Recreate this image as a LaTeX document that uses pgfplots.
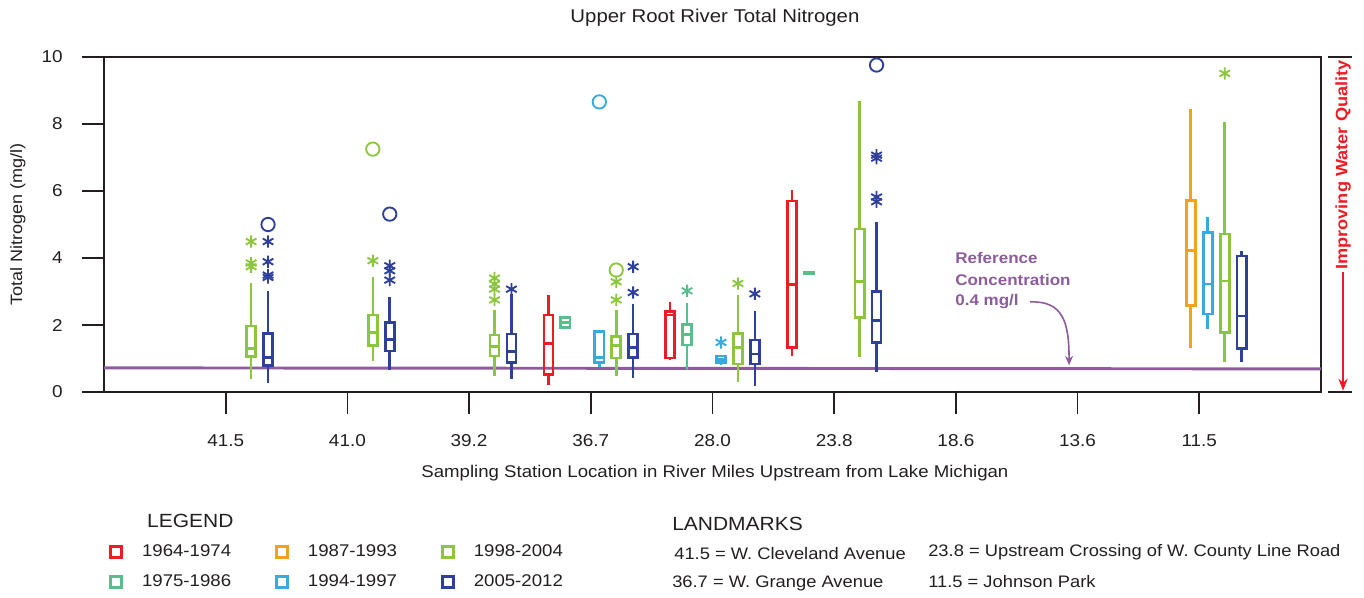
\documentclass[border=0pt]{standalone}
\usepackage{pgfplots}
\pgfplotsset{compat=1.18}
\usepgfplotslibrary{statistics}
\usetikzlibrary{arrows.meta}
\usepackage{fontspec}
\setmainfont{Liberation Sans}[FakeStretch=1.1]
\definecolor{cred}{RGB}{237,28,36}
\definecolor{cteal}{RGB}{90,190,140}
\definecolor{corange}{RGB}{247,160,30}
\definecolor{clblue}{RGB}{57,170,225}
\definecolor{cgreen}{RGB}{140,198,63}
\definecolor{cnavy}{RGB}{46,64,154}
\definecolor{cpurple}{RGB}{140,92,155}
\definecolor{axisblack}{RGB}{35,31,32}
\newcommand{\fs}[1]{\fontsize{#1}{#1}\selectfont}
% #1 colour, #2 position, #3 lower whisker, #4 lower quartile, #5 median, #6 upper quartile, #7 upper whisker
\newcommand{\bx}[7]{\addplot[#1, line width=2pt, forget plot, boxplot prepared={draw position=#2, lower whisker=#3, lower quartile=#4, median=#5, upper quartile=#6, upper whisker=#7, box extend=0.075, whisker extend=0}] coordinates {};}
\begin{document}
\begin{tikzpicture}
\useasboundingbox (-78pt,-153.75pt) rectangle (945pt,294pt);
\begin{axis}[
  at={(0,0)}, anchor=south west,
  scale only axis, width=912.75pt, height=251.25pt,
  xmin=0, xmax=10, ymin=0, ymax=10,
  boxplot/draw direction=y,
  boxplot/every box/.style={line width=2pt},
  boxplot/every whisker/.style={line width=2pt},
  boxplot/every median/.style={line width=2pt},
  xtick={1,...,9},
  xticklabels={41.5,41.0,39.2,36.7,28.0,23.8,18.6,13.6,11.5},
  ytick={0,2,...,10},
  tick pos=left,
  tick align=outside, major tick length=16.5pt,
  tick style={line width=1.3pt, color=axisblack},
  axis line style={line width=1.3pt, color=axisblack},
  /pgf/number format/assume math mode=true,
  ticklabel style={font=\fs{12.9pt}, text=axisblack},
  xticklabel style={anchor=base, inner sep=0pt, yshift=-24.5pt},
  yticklabel style={anchor=east, inner sep=0pt, xshift=-14.25pt},
  clip=false,
  xlabel={Sampling Station Location in River Miles Upstream from Lake Michigan},
  ylabel={Total Nitrogen (mg/l)},
  every axis x label/.style={at={(axis description cs:0.502,-0.2567)}, anchor=base, font=\fs{12.7pt}, text=axisblack},
  every axis y label/.style={at={(axis description cs:-0.0707,0.5)}, rotate=90, anchor=center, font=\fs{12.3pt}, text=axisblack},
  legend columns=3,
  legend cell align=left,
  legend image code/.code={\draw[#1, line width=2.2pt] (0pt,-4.2pt) rectangle (8.4pt,4.2pt);},
  legend style={at={(axis description cs:0.0041,-0.4552)}, anchor=north west, draw=none, fill=none, inner sep=0pt, font=\fs{12.7pt}, text=axisblack, row sep=12pt, nodes={inner sep=0pt},
    /tikz/every odd column/.append style={column sep=14pt},
    /tikz/every even column/.append style={column sep=33pt}},
]
\addlegendimage{draw=cred}\addlegendentry{1964-1974}
\addlegendimage{draw=corange}\addlegendentry{1987-1993}
\addlegendimage{draw=cgreen}\addlegendentry{1998-2004}
\addlegendimage{draw=cteal}\addlegendentry{1975-1986}
\addlegendimage{draw=clblue}\addlegendentry{1994-1997}
\addlegendimage{draw=cnavy}\addlegendentry{2005-2012}

% reference concentration line
\addplot[cpurple, line width=2.2pt, forget plot] coordinates {(0,0.72) (10,0.69)};

% 41.5
\bx{cgreen}{1.209}{0.39}{1.05}{1.30}{1.97}{3.26}
\bx{cnavy}{1.348}{0.26}{0.79}{1.03}{1.75}{3.02}
% 41.0
\bx{cgreen}{2.209}{0.93}{1.38}{1.77}{2.30}{3.44}
\bx{cnavy}{2.348}{0.66}{1.22}{1.57}{2.07}{2.85}
% 39.2
\bx{cgreen}{3.209}{0.48}{1.07}{1.35}{1.70}{2.45}
\bx{cnavy}{3.348}{0.38}{0.88}{1.20}{1.73}{2.92}
% 36.7
\bx{cred}{3.652}{0.21}{0.53}{1.45}{2.30}{2.90}
\bx{cteal}{3.791}{1.93}{1.93}{2.07}{2.22}{2.22}
\bx{clblue}{4.070}{0.76}{0.88}{1.03}{1.80}{1.80}
\bx{cgreen}{4.209}{0.48}{1.02}{1.38}{1.65}{2.45}
\bx{cnavy}{4.348}{0.41}{1.03}{1.32}{1.73}{2.63}
% 28.0
\bx{cred}{4.652}{0.97}{1.02}{2.30}{2.40}{2.70}
\bx{cteal}{4.791}{0.66}{1.40}{1.72}{2.02}{2.65}
\bx{clblue}{5.070}{0.81}{0.88}{0.98}{1.07}{1.07}
\bx{cgreen}{5.209}{0.31}{0.84}{1.33}{1.75}{2.90}
\bx{cnavy}{5.348}{0.18}{0.84}{1.13}{1.55}{2.43}
% 23.8
\bx{cred}{5.652}{1.07}{1.33}{3.21}{5.70}{6.03}
\bx{cteal}{5.791}{3.54}{3.54}{3.56}{3.58}{3.58}
\bx{cgreen}{6.209}{1.05}{2.22}{3.29}{4.87}{8.69}
\bx{cnavy}{6.348}{0.59}{1.47}{2.13}{3.01}{5.08}
% 11.5
\bx{corange}{8.930}{1.30}{2.58}{4.22}{5.71}{8.44}
\bx{clblue}{9.070}{1.87}{2.33}{3.22}{4.76}{5.23}
\bx{cgreen}{9.209}{0.91}{1.78}{3.31}{4.72}{8.07}
\bx{cnavy}{9.348}{0.89}{1.30}{2.27}{4.06}{4.21}

% outliers (asterisks)
\addplot[only marks, mark=asterisk, mark size=4.6pt, line width=1.4pt, cgreen, forget plot] coordinates {
 (1.209,4.49) (1.209,3.85) (1.209,3.74)
 (2.209,3.92)
 (3.209,3.40) (3.209,3.22) (3.209,3.07) (3.209,2.75)
 (4.209,3.29) (4.209,2.75)
 (5.209,3.24)
 (9.209,9.51)};
\addplot[only marks, mark=asterisk, mark size=4.6pt, line width=1.4pt, cnavy, forget plot] coordinates {
 (1.348,4.49) (1.348,3.89) (1.348,3.49) (1.348,3.42)
 (2.348,3.77) (2.348,3.62) (2.348,3.34)
 (3.348,3.07)
 (4.348,3.74) (4.348,2.97)
 (5.348,2.93)
 (6.348,7.07) (6.348,6.98) (6.348,5.82) (6.348,5.68)};
\addplot[only marks, mark=asterisk, mark size=4.6pt, line width=1.4pt, cteal, forget plot] coordinates {(4.791,3.02)};
\addplot[only marks, mark=asterisk, mark size=4.6pt, line width=1.4pt, clblue, forget plot] coordinates {(5.070,1.48)};
% outliers (circles)
\addplot[only marks, mark=o, mark size=5pt, line width=1.4pt, cgreen, forget plot] coordinates {(2.209,7.25) (4.209,3.64)};
\addplot[only marks, mark=o, mark size=5pt, line width=1.4pt, cnavy, forget plot] coordinates {(1.348,5.00) (2.348,5.31) (6.348,9.76)};
\addplot[only marks, mark=o, mark size=5pt, line width=1.4pt, clblue, forget plot] coordinates {(4.070,8.66)};

% title
\node[anchor=base, font=\fs{13.9pt}, text=axisblack] at (axis description cs:0.502,1.1015) {Upper Root River Total Nitrogen};

% reference annotation
\node[anchor=base west, inner sep=0pt, font=\bfseries\fs{11.6pt}, text=cpurple] at (axis description cs:0.6993,0.385) {Reference};
\node[anchor=base west, inner sep=0pt, font=\bfseries\fs{11.6pt}, text=cpurple] at (axis description cs:0.6993,0.3194) {Concentration};
\node[anchor=base west, inner sep=0pt, font=\bfseries\fs{11.6pt}, text=cpurple] at (axis description cs:0.6993,0.2597) {0.4 mg/l};
\draw[cpurple, line width=1.2pt, -{Stealth[length=7pt,width=6pt]}] (axis cs:7.61,2.69) .. controls (axis cs:7.88,2.72) and (axis cs:7.93,2.1) .. (axis cs:7.93,0.80);

% improving water quality
\draw[axisblack, line width=1.3pt] (axis description cs:1.0058,1) -- (axis description cs:1.0255,1);
\draw[axisblack, line width=1.3pt] (axis description cs:1.0058,0) -- (axis description cs:1.0255,0);
\node[rotate=90, anchor=west, inner sep=0pt, font=\bfseries\fs{12.4pt}, text=cred] at (axis description cs:1.0181,0.364) {Improving Water Quality};
\draw[cred, line width=1.1pt, -{Stealth[length=9pt,width=7pt]}] (axis description cs:1.0181,0.358) -- (axis description cs:1.0181,0.004);

% legend heading and landmarks
\node[anchor=base west, inner sep=0pt, font=\fs{14.3pt}, text=axisblack] at (axis description cs:0.0353,-0.403) {LEGEND};
\node[anchor=base west, inner sep=0pt, font=\fs{14.3pt}, text=axisblack] at (axis description cs:0.4667,-0.412) {LANDMARKS};
\node[anchor=base west, inner sep=0pt, font=\fs{12.5pt}, text=axisblack] at (axis description cs:0.4684,-0.4985) {41.5 = W. Cleveland Avenue};
\node[anchor=base west, inner sep=0pt, font=\fs{12.5pt}, text=axisblack] at (axis description cs:0.6771,-0.4925) {23.8 = Upstream Crossing of W. County Line Road};
\node[anchor=base west, inner sep=0pt, font=\fs{12.5pt}, text=axisblack] at (axis description cs:0.4667,-0.5821) {36.7 = W. Grange Avenue};
\node[anchor=base west, inner sep=0pt, font=\fs{12.5pt}, text=axisblack] at (axis description cs:0.6771,-0.5821) {11.5 = Johnson Park};
\end{axis}
\end{tikzpicture}
\end{document}
